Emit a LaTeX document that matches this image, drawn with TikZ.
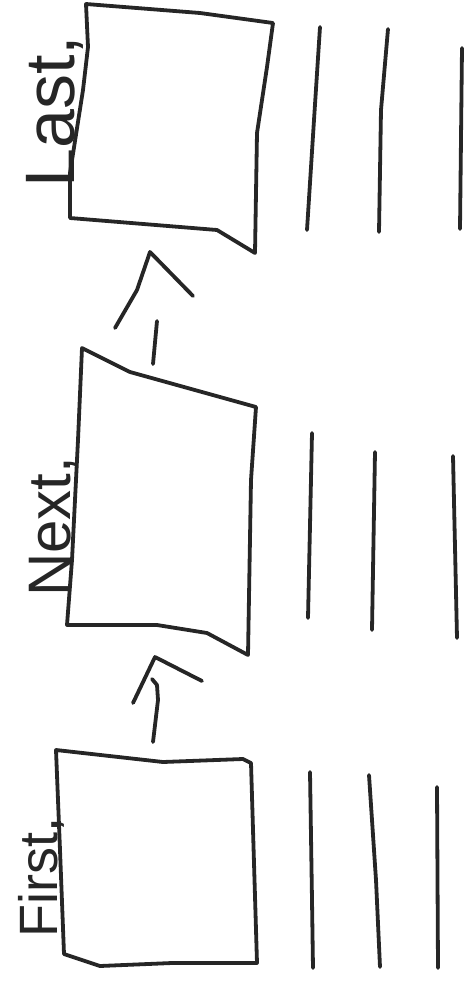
\documentclass[tikz,border=0pt]{standalone}
\usepackage{fontspec}
\setmainfont{Liberation Sans}
\begin{document}
\begin{tikzpicture}[x=1pt,y=-1pt,
  pen/.style={line width=3.8pt,line cap=round,line join=round,black!85},
  lbl/.style={rotate=90,anchor=base west,inner sep=0pt,text=black!85}]
\useasboundingbox (0,0) rectangle (474,983);
% ---------- Last box ----------
\coordinate (L1) at (86,4);
\coordinate (L2) at (273,23);
\coordinate (L3) at (255,253);
\coordinate (L4) at (70,218);
\draw[pen] (L1) -- (200,13) -- (L2) -- (267,67) -- (257,133) -- (L3)
  -- (217,230) -- (L4) -- (70,173) -- (83,90) -- (88,47) -- cycle;
\node[lbl,font=\fontsize{70}{70}\selectfont] (tlast) at (74,188) {Last,};
% ---------- Next box ----------
\coordinate (N1) at (82,348);
\coordinate (N2) at (256,407);
\coordinate (N3) at (248,655);
\coordinate (N4) at (67,625);
\draw[pen] (N1) -- (130,372) -- (N2) -- (251,480) -- (N3) -- (207,633)
  -- (157,625) -- (N4) -- (72,560) -- (78,440) -- cycle;
\node[lbl,font=\fontsize{60}{60}\selectfont] (tnext) at (70,597) {Next,};
% ---------- First box ----------
\coordinate (F1) at (56,750);
\coordinate (F2) at (251,763);
\coordinate (F3) at (257,963);
\coordinate (F4) at (64,954);
\draw[pen] (F1) -- (163,762) -- (243,759) -- (F2) -- (F3) -- (172,963)
  -- (100,966) -- (F4) -- (60,850) -- cycle;
\node[lbl,font=\fontsize{54}{54}\selectfont] (tfirst) at (57,938) {First,};
% ---------- arrow First -> Next ----------
\coordinate (a1s) at (153,742);
\coordinate (a1e) at (152,679);
\draw[pen] (a1s) -- (158,700) -- (157,685) -- (a1e);
\coordinate (h1a) at (133,703);
\coordinate (h1t) at (155,657);
\coordinate (h1b) at (202,681);
\draw[pen] (h1a) -- (h1t) -- (h1b);
% ---------- arrow Next -> Last ----------
\coordinate (a2s) at (153,364);
\coordinate (a2e) at (157,321);
\draw[pen] (a2s) -- (a2e);
\coordinate (h2a) at (115,328);
\coordinate (h2t) at (150,252);
\coordinate (h2b) at (193,296);
\draw[pen] (h2a) -- (137,290) -- (h2t) -- (h2b);
% ---------- lines beside Last ----------
\draw[pen] (320,27) -- (314,120) -- (307,230);
\draw[pen] (388,29) -- (381,110) -- (379,232);
\draw[pen] (462,48) -- (460,229);
% ---------- lines beside Next ----------
\draw[pen] (312,433) -- (308,618);
\draw[pen] (375,452) -- (372,630);
\draw[pen] (453,456) -- (457,638);
% ---------- lines beside First ----------
\draw[pen] (310,772) -- (312,900) -- (313,968);
\draw[pen] (369,775) -- (376,880) -- (380,967);
\draw[pen] (437,787) -- (438,968);
\end{tikzpicture}
\end{document}
